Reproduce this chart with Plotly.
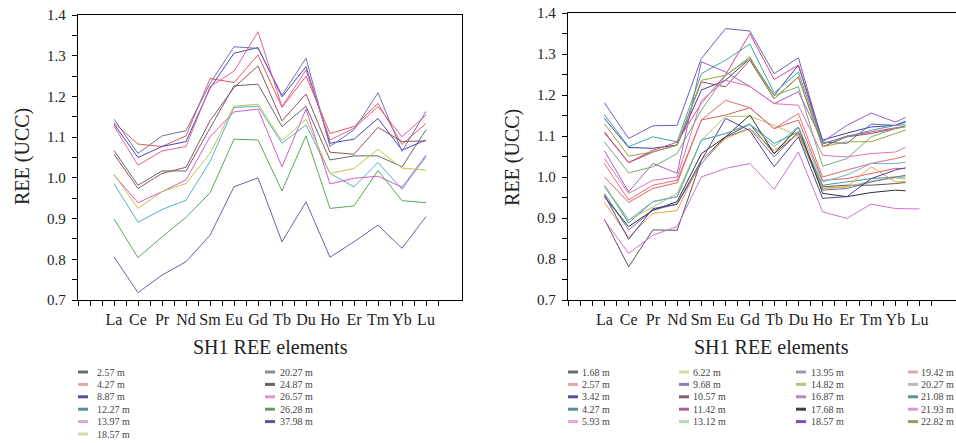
import plotly.graph_objects as go

W, H = 956, 443
FONT = "Liberation Serif"

elements = ["La", "Ce", "Pr", "Nd", "Sm", "Eu", "Gd", "Tb", "Du", "Ho", "Er", "Tm", "Yb", "Lu"]
y_ticks = [0.7, 0.8, 0.9, 1.0, 1.1, 1.2, 1.3, 1.4]

# ---------------- Left chart data ----------------
L_2_57 = [1.067, 0.982, 1.017, 1.017, 1.122, 1.226, 1.230, 1.126, 1.176, 1.044, 1.054, 1.054, 1.027, 1.118]
L_4_27 = [1.135, 1.083, 1.077, 1.103, 1.244, 1.234, 1.302, 1.173, 1.250, 1.109, 1.126, 1.183, 1.082, 1.134]
L_8_87 = [1.132, 1.050, 1.077, 1.089, 1.220, 1.306, 1.320, 1.199, 1.273, 1.085, 1.095, 1.146, 1.068, 1.093]
L_12_27 = [0.986, 0.891, 0.922, 0.945, 1.040, 1.173, 1.176, 1.085, 1.130, 1.011, 0.978, 1.038, 0.972, 1.052]
L_13_97 = [1.007, 0.939, 0.966, 0.995, 1.101, 1.162, 1.169, 1.027, 1.169, 0.985, 0.999, 1.004, 0.977, 1.056]
L_18_57 = [1.009, 0.925, 0.966, 0.986, 1.060, 1.176, 1.181, 1.091, 1.144, 1.011, 1.023, 1.070, 1.024, 1.019]
L_20_27 = [1.144, 1.060, 1.103, 1.116, 1.232, 1.322, 1.318, 1.203, 1.294, 1.077, 1.118, 1.209, 1.065, 1.163]
L_24_87 = [1.058, 0.974, 1.011, 1.026, 1.140, 1.222, 1.275, 1.140, 1.206, 1.063, 1.058, 1.124, 1.089, 1.091]
L_26_57 = [1.127, 1.031, 1.066, 1.077, 1.224, 1.262, 1.359, 1.175, 1.265, 1.093, 1.122, 1.175, 1.101, 1.154]
L_26_28 = [0.899, 0.804, 0.855, 0.903, 0.963, 1.095, 1.093, 0.968, 1.103, 0.925, 0.931, 1.018, 0.944, 0.939]
L_37_98 = [0.806, 0.718, 0.761, 0.794, 0.859, 0.978, 1.000, 0.843, 0.941, 0.805, 0.843, 0.884, 0.827, 0.905]

left_names = ["2.57 m", "4.27 m", "8.87 m", "12.27 m", "13.97 m", "18.57 m",
              "20.27 m", "24.87 m", "26.57 m", "26.28 m", "37.98 m"]
left_series = [L_2_57, L_4_27, L_8_87, L_12_27, L_13_97, L_18_57,
               L_20_27, L_24_87, L_26_57, L_26_28, L_37_98]
left_line_colors = ["#686868", "#e05a5a", "#4646b4", "#4cb4c4", "#d65cc8", "#c4c44c",
                    "#7070b0", "#905656", "#e0609c", "#58a858", "#6464b4"]
left_swatch_colors = ["#6a6a6a", "#e8a8a8", "#5050a8", "#5a9090", "#d8a8d8", "#d8d8a8",
                      "#8a8890", "#706060", "#e098c8", "#6a9a6a", "#5a5a98"]

# ---------------- Right chart data ----------------
R_1_68 = [0.897, 0.781, 0.871, 0.870, 1.041, 1.098, 1.129, 1.057, 1.106, 0.976, 0.980, 0.980, 0.984, 0.990]
R_2_57 = [1.000, 0.938, 0.972, 0.986, 1.139, 1.151, 1.169, 1.118, 1.139, 0.992, 0.996, 1.009, 1.021, 1.020]
R_3_42 = [1.143, 1.072, 1.070, 1.078, 1.212, 1.236, 1.289, 1.199, 1.273, 1.090, 1.107, 1.122, 1.126, 1.150]
R_4_27 = [0.980, 0.888, 0.940, 0.952, 1.090, 1.106, 1.129, 1.082, 1.110, 0.980, 0.988, 0.996, 1.000, 1.000]
R_5_93 = [0.895, 0.814, 0.858, 0.879, 1.000, 1.021, 1.033, 0.970, 1.061, 0.915, 0.899, 0.934, 0.923, 0.922]
R_6_22 = [0.980, 0.895, 0.927, 0.960, 1.090, 1.148, 1.148, 1.126, 1.100, 0.972, 0.976, 0.990, 0.998, 0.990]
R_9_68 = [1.181, 1.094, 1.125, 1.126, 1.289, 1.362, 1.356, 1.252, 1.291, 1.085, 1.082, 1.129, 1.126, 1.145]
R_10_57 = [1.110, 1.035, 1.061, 1.078, 1.232, 1.220, 1.285, 1.191, 1.244, 1.074, 1.098, 1.106, 1.118, 1.130]
R_11_42 = [1.108, 1.035, 1.065, 1.085, 1.180, 1.250, 1.350, 1.238, 1.273, 1.080, 1.100, 1.110, 1.120, 1.130]
R_13_12 = [1.086, 1.010, 1.025, 1.057, 1.163, 1.248, 1.289, 1.199, 1.220, 1.026, 1.045, 1.098, 1.118, 1.130]
R_13_95 = [0.960, 0.871, 0.919, 0.934, 1.033, 1.098, 1.118, 1.049, 1.110, 0.968, 0.972, 0.988, 1.000, 1.010]
R_14_82 = [0.938, 0.853, 0.911, 0.918, 1.041, 1.094, 1.118, 1.065, 1.106, 0.972, 0.976, 1.025, 0.988, 0.990]
R_16_87 = [1.064, 0.964, 1.033, 1.009, 1.281, 1.256, 1.221, 1.179, 1.208, 1.086, 1.126, 1.156, 1.134, 1.160]
R_17_68 = [0.952, 0.879, 0.919, 0.940, 1.057, 1.098, 1.151, 1.057, 1.122, 0.960, 0.952, 0.962, 0.968, 0.964]
R_18_57 = [0.956, 0.848, 0.923, 0.934, 1.041, 1.143, 1.113, 1.025, 1.098, 0.948, 0.952, 0.996, 1.017, 1.030]
R_19_42 = [1.033, 0.944, 0.980, 0.992, 1.139, 1.187, 1.169, 1.118, 1.155, 1.000, 1.017, 1.033, 1.045, 1.060]
R_20_27 = [0.976, 0.895, 0.940, 0.952, 1.090, 1.106, 1.129, 1.074, 1.122, 0.988, 1.005, 1.033, 1.033, 1.040]
R_21_08 = [1.152, 1.074, 1.098, 1.086, 1.252, 1.285, 1.324, 1.205, 1.256, 1.082, 1.098, 1.114, 1.126, 1.130]
R_21_93 = [1.045, 0.960, 0.992, 1.000, 1.187, 1.236, 1.221, 1.179, 1.175, 1.053, 1.049, 1.057, 1.061, 1.088]
R_22_82 = [1.130, 1.051, 1.061, 1.078, 1.236, 1.248, 1.293, 1.191, 1.244, 1.074, 1.086, 1.086, 1.106, 1.126]

right_names = ["1.68 m", "2.57 m", "3.42 m", "4.27 m", "5.93 m",
               "6.22 m", "9.68 m", "10.57 m", "11.42 m", "13.12 m",
               "13.95 m", "14.82 m", "16.87 m", "17.68 m", "18.57 m",
               "19.42 m", "20.27 m", "21.08 m", "21.93 m", "22.82 m"]
right_series = [R_1_68, R_2_57, R_3_42, R_4_27, R_5_93,
                R_6_22, R_9_68, R_10_57, R_11_42, R_13_12,
                R_13_95, R_14_82, R_16_87, R_17_68, R_18_57,
                R_19_42, R_20_27, R_21_08, R_21_93, R_22_82]
right_line_colors = ["#555555", "#e06060", "#3c3cb0", "#3c9c9c", "#d070d0",
                     "#b8c060", "#6464c4", "#905050", "#d84888", "#70b070",
                     "#7070a0", "#e8a444", "#a060c0", "#303030", "#5040a0",
                     "#e07070", "#70b4c4", "#40a4a4", "#e070c0", "#a0a040"]
right_swatch_colors = ["#6a6a6a", "#e8a8a8", "#5050a8", "#5a9090", "#e0a8d8",
                       "#d8d8a8", "#8a80b8", "#806060", "#b06090", "#b8d8b8",
                       "#a098b0", "#c8b888", "#b888c0", "#404040", "#8050b0",
                       "#e0a8a8", "#b8b8cc", "#609090", "#d898d0", "#989868"]


def px(x):
    return x / W


def py(y):
    return 1 - y / H


xs = list(range(len(elements)))
fig = go.Figure()
for name, vals, col in zip(left_names, left_series, left_line_colors):
    fig.add_trace(go.Scatter(x=xs, y=vals, mode="lines", name=name,
                             line=dict(color=col, width=1), xaxis="x", yaxis="y",
                             showlegend=False))
for name, vals, col in zip(right_names, right_series, right_line_colors):
    fig.add_trace(go.Scatter(x=xs, y=vals, mode="lines", name=name,
                             line=dict(color=col, width=1), xaxis="x2", yaxis="y2",
                             showlegend=False))

# half-step ticks, labels only at element positions
tickvals = [i / 2 - 1.5 for i in range(2 * len(elements) + 3)]
ticktext = [elements[int(v)] if v >= 0 and v == int(v) and int(v) < len(elements) else ""
            for v in tickvals]

xcommon = dict(range=[-1.5, 14.5], tickmode="array", tickvals=tickvals, ticktext=ticktext,
               ticks="outside", ticklen=5, tickwidth=1.2, tickcolor="black",
               showline=True, linecolor="black", linewidth=1.3,
               showgrid=False, zeroline=False, automargin=False,
               tickfont=dict(family=FONT, size=16, color="#222"))
ycommon = dict(range=[0.7, 1.4], tickmode="array", tickvals=y_ticks,
               ticktext=["%.1f" % v for v in y_ticks],
               ticks="outside", ticklen=5, tickwidth=1.2, tickcolor="black",
               minor=dict(ticks="outside", dtick=0.05, tick0=0.7, ticklen=5,
                          tickwidth=1.2, tickcolor="black", showgrid=False),
               showline=True, linecolor="black", linewidth=1.3,
               showgrid=False, zeroline=False, automargin=False,
               ticklabelstandoff=3,
               tickfont=dict(family=FONT, size=15, color="#222"))

fig.update_layout(
    width=W, height=H, margin=dict(l=0, r=0, t=0, b=0, autoexpand=False),
    paper_bgcolor="white", plot_bgcolor="white",
    xaxis=dict(domain=[px(78), px(462)], anchor="y", mirror=True, **xcommon),
    yaxis=dict(domain=[py(300), py(15)], anchor="x", mirror=True, **ycommon),
    xaxis2=dict(domain=[px(568), 1.0], anchor="y2", mirror=True, **xcommon),
    yaxis2=dict(domain=[py(300), py(13)], anchor="x2", mirror=False, **ycommon),
    font=dict(family=FONT),
)

# cover that hides line ends in the right chart (as in the source image)
shapes = [dict(type="rect", xref="x2", yref="y2", x0=12.42, x1=13.9, y0=0.93, y1=1.385,
               fillcolor="white", line=dict(width=0), layer="above")]

annotations = []
# axis titles
for cx, cy, txt, ang in [(270, 347, "SH1 REE elements", 0), (771, 347, "SH1 REE elements", 0),
                         (22, 157, "REE (UCC)", -90), (512, 157, "REE (UCC)", -90)]:
    annotations.append(dict(x=px(cx), y=py(cy), xref="paper", yref="paper", text=txt,
                            showarrow=False, textangle=ang, xanchor="center", yanchor="middle",
                            font=dict(family=FONT, size=20, color="#222")))


def add_legend(names, colors, swatch_x, text_x, rows):
    for i, (n, c) in enumerate(zip(names, colors)):
        col, row = divmod(i, rows)
        sx = swatch_x[col]
        yy = 372 + 12.4 * row
        shapes.append(dict(type="line", xref="paper", yref="paper",
                           x0=px(sx), x1=px(sx + 10), y0=py(yy), y1=py(yy),
                           line=dict(color=c, width=3)))
        annotations.append(dict(x=px(text_x[col]), y=py(yy), xref="paper", yref="paper",
                                text=n, showarrow=False, xanchor="left", yanchor="middle",
                                borderpad=0, borderwidth=0,
                                font=dict(family=FONT, size=10, color="#444")))


add_legend(left_names, left_swatch_colors, [78, 265], [97, 280], 6)
add_legend(right_names, right_swatch_colors, [568, 679, 796, 908], [582, 693, 811, 921], 5)

fig.update_layout(shapes=shapes, annotations=annotations)
fig.write_html("out.html", config={"displayModeBar": False},
               post_script="document.body.style.margin='0';document.body.style.overflow='hidden';")
